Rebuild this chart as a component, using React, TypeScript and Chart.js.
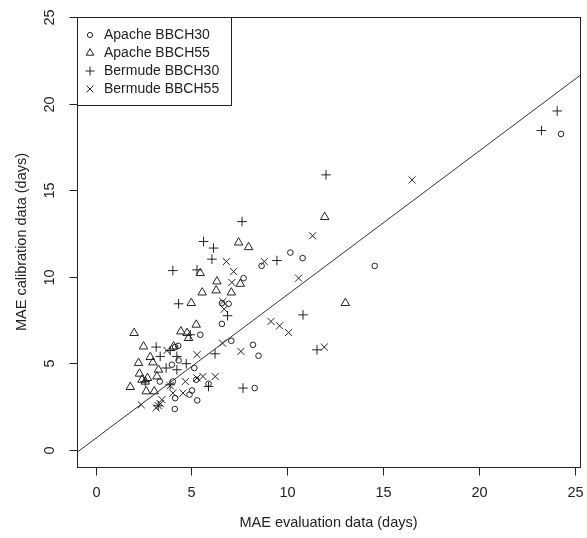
import React, { useEffect, useRef } from 'react';
import { Chart, registerables } from 'chart.js';

Chart.register(...registerables);

// ---- Data (x = MAE evaluation, y = MAE calibration) ----
const apacheBBCH30: [number, number][] = [
  [24.28, 18.24], [14.56, 10.62], [10.16, 11.39], [10.8, 11.07], [8.66, 10.62],
  [7.72, 9.91], [6.94, 8.43], [6.59, 8.47], [6.59, 7.27], [5.46, 6.64], [7.08, 6.29],
  [8.21, 6.06], [8.5, 5.43], [8.3, 3.56], [4.15, 5.93], [4.31, 6.0], [4.33, 5.16],
  [3.98, 4.91], [5.15, 4.72], [5.25, 4.04], [4.03, 3.94], [3.35, 3.94], [5.03, 3.42],
  [4.9, 3.18], [5.3, 2.85], [4.15, 2.98], [4.13, 2.35], [5.89, 3.81],
];

const apacheBBCH55: [number, number][] = [
  [11.95, 13.44], [13.03, 8.47], [7.46, 11.97], [7.98, 11.7], [5.46, 10.2],
  [6.33, 9.72], [7.55, 9.58], [6.29, 9.2], [5.56, 9.08], [7.08, 9.08], [4.99, 8.47],
  [5.25, 7.22], [2.01, 6.74], [4.45, 6.83], [4.77, 6.74], [4.85, 6.45], [2.5, 5.96],
  [4.07, 5.96], [2.85, 5.35], [2.99, 5.04], [2.24, 5.01], [3.28, 4.62], [2.29, 4.39],
  [2.71, 4.14], [2.42, 4.04], [3.2, 4.23], [2.59, 3.93], [1.81, 3.62], [2.64, 3.37],
  [3.06, 3.37],
];

const bermudeBBCH30: [number, number][] = [
  [24.08, 19.57], [23.26, 18.44], [12.02, 15.88], [7.64, 13.18], [5.63, 12.03],
  [6.15, 11.65], [6.07, 11.01], [4.03, 10.35], [5.29, 10.39], [9.46, 10.93],
  [4.33, 8.43], [6.88, 7.74], [10.82, 7.79], [11.55, 5.77], [7.69, 3.56], [6.23, 5.54],
  [4.94, 6.64], [3.16, 5.93], [3.89, 5.73], [3.37, 5.39], [4.24, 5.39], [4.73, 4.97],
  [3.68, 4.72], [4.24, 4.62], [5.89, 3.65], [3.89, 3.75], [2.59, 3.93], [3.27, 2.54],
];

const bermudeBBCH55: [number, number][] = [
  [16.51, 15.59], [11.32, 12.36], [8.8, 10.87], [10.59, 9.91], [9.15, 7.41],
  [9.6, 7.16], [10.07, 6.77], [11.93, 5.93], [7.58, 5.68], [6.62, 6.16], [5.29, 5.49],
  [6.82, 10.87], [7.2, 10.29], [7.11, 9.66], [6.64, 8.56], [6.71, 8.12], [5.6, 4.23],
  [6.24, 4.23], [4.68, 3.94], [4.56, 3.27], [2.38, 2.6], [3.28, 2.54], [3.37, 2.66],
  [3.16, 2.42], [3.72, 5.73], [5.29, 4.14], [3.89, 3.7], [4.03, 3.27], [3.46, 2.89],
];

const seriesNames = ['Apache BBCH30', 'Apache BBCH55', 'Bermude BBCH30', 'Bermude BBCH55'];

// fitted line: y = intercept + slope * x, drawn across the x range
const fitIntercept = 0.65;
const fitSlope = 0.83;
const fitXEnds = [-1, 25.5];

const xTicks = [0, 5, 10, 15, 20, 25];
const yTicks = [0, 5, 10, 15, 20, 25];
const X_MIN = -0.97;
const X_MAX = 25.27;
const Y_MIN = -1;
const Y_MAX = 25;

const xTitle = 'MAE evaluation data (days)';
const yTitle = 'MAE calibration data (days)';

const FONT = '"Liberation Sans", Arial, Helvetica, sans-serif';
const INK = '#222222';

const toPts = (arr: [number, number][]) => arr.map(([x, y]) => ({ x, y }));

function drawSymbol(ctx: CanvasRenderingContext2D, kind: number, x: number, y: number) {
  ctx.beginPath();
  if (kind === 0) {
    ctx.arc(x, y, 2.6, 0, Math.PI * 2);
  } else if (kind === 1) {
    const r = 4.4;
    ctx.moveTo(x, y - r);
    ctx.lineTo(x + r * 0.866, y + r * 0.5);
    ctx.lineTo(x - r * 0.866, y + r * 0.5);
    ctx.closePath();
  } else if (kind === 2) {
    const r = 4.5;
    ctx.moveTo(x - r, y);
    ctx.lineTo(x + r, y);
    ctx.moveTo(x, y - r);
    ctx.lineTo(x, y + r);
  } else {
    const r = 3.4;
    ctx.moveTo(x - r, y - r);
    ctx.lineTo(x + r, y + r);
    ctx.moveTo(x + r, y - r);
    ctx.lineTo(x - r, y + r);
  }
  ctx.stroke();
}

const rFrame = {
  id: 'rFrame',
  afterDraw(chart: any) {
    const { ctx, chartArea: a, scales } = chart;
    const xs = scales.x;
    const ys = scales.y;
    ctx.save();
    ctx.strokeStyle = INK;
    ctx.fillStyle = INK;
    ctx.lineWidth = 1;
    const L = Math.round(a.left) + 0.5;
    const T = Math.round(a.top) + 0.5;
    const R = Math.round(a.right) + 0.5;
    const B = Math.round(a.bottom) + 0.5;
    ctx.strokeRect(L, T, R - L, B - T);

    ctx.font = `14.5px ${FONT}`;
    ctx.textAlign = 'center';
    ctx.textBaseline = 'middle';
    xTicks.forEach((v) => {
      const px = Math.round(xs.getPixelForValue(v)) + 0.5;
      ctx.beginPath();
      ctx.moveTo(px, B);
      ctx.lineTo(px, B + 8);
      ctx.stroke();
      ctx.fillText(String(v), px, a.bottom + 26);
    });
    yTicks.forEach((v) => {
      const py = Math.round(ys.getPixelForValue(v)) + 0.5;
      ctx.beginPath();
      ctx.moveTo(L - 8, py);
      ctx.lineTo(L, py);
      ctx.stroke();
      ctx.save();
      ctx.translate(a.left - 27, py);
      ctx.rotate(-Math.PI / 2);
      ctx.fillText(String(v), 0, 0);
      ctx.restore();
    });

    ctx.fillText(xTitle, (a.left + a.right) / 2, 523);
    ctx.save();
    ctx.translate(22, (a.top + a.bottom) / 2);
    ctx.rotate(-Math.PI / 2);
    ctx.fillText(yTitle, 0, 0);
    ctx.restore();

    // legend
    ctx.font = `14px ${FONT}`;
    const lx = L;
    const ly = T;
    const lw = 154;
    const lh = 88;
    ctx.fillStyle = '#ffffff';
    ctx.fillRect(lx, ly, lw, lh);
    ctx.strokeRect(lx, ly, lw, lh);
    ctx.fillStyle = INK;
    ctx.textAlign = 'left';
    seriesNames.forEach((name, i) => {
      const cy = 35 + i * 18;
      drawSymbol(ctx, i, 90, cy);
      ctx.fillText(name, 104, cy + 0.5);
    });
    ctx.restore();
  },
};

export default function App() {
  const ref = useRef<HTMLCanvasElement | null>(null);
  useEffect(() => {
    document.body.style.margin = '0';
    const canvas = ref.current!;
    const common = {
      borderColor: INK,
      backgroundColor: 'rgba(0,0,0,0)',
      borderWidth: 1,
      pointHoverRadius: 5,
    };
    const chart = new Chart(canvas, {
      type: 'scatter',
      data: {
        datasets: [
          {
            type: 'line',
            label: 'fit',
            data: fitXEnds.map((x) => ({ x, y: fitIntercept + fitSlope * x })),
            borderColor: '#333333',
            borderWidth: 1,
            pointRadius: 0,
            fill: false,
          } as any,
          { ...common, label: seriesNames[0], data: toPts(apacheBBCH30), pointStyle: 'circle', pointRadius: 2.8 },
          { ...common, label: seriesNames[1], data: toPts(apacheBBCH55), pointStyle: 'triangle', pointRadius: 4.9 },
          { ...common, label: seriesNames[2], data: toPts(bermudeBBCH30), pointStyle: 'cross', pointRadius: 4.8 },
          { ...common, label: seriesNames[3], data: toPts(bermudeBBCH55), pointStyle: 'crossRot', pointRadius: 5 },
        ],
      },
      options: {
        animation: false,
        responsive: false,
        devicePixelRatio: 1,
        layout: { padding: { left: 77, right: 7, top: 17, bottom: 71 } },
        plugins: { legend: { display: false }, tooltip: { enabled: false } },
        scales: {
          x: { type: 'linear', min: X_MIN, max: X_MAX, display: false },
          y: { type: 'linear', min: Y_MIN, max: Y_MAX, display: false },
        },
      },
      plugins: [rFrame],
    });
    return () => chart.destroy();
  }, []);
  return (
    <div style={{ position: 'absolute', left: 0, top: 0, width: 587, height: 538, background: '#fff' }}>
      <canvas ref={ref} width={587} height={538} />
    </div>
  );
}
